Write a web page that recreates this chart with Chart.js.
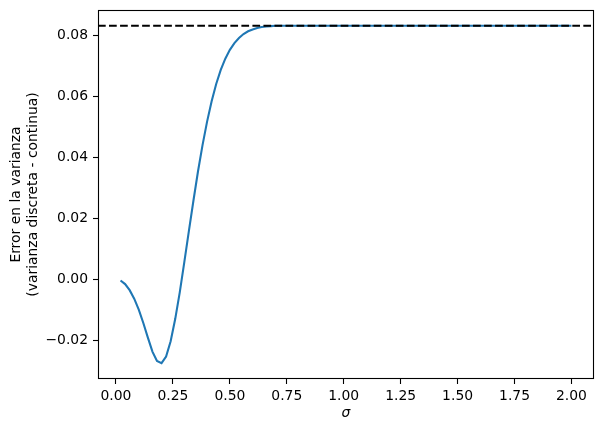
<!DOCTYPE html>
<html>
<head>
<meta charset="utf-8">
<script src="https://cdn.jsdelivr.net/npm/chart.js@4"></script>
<style>
	html, body { margin: 0; padding: 0; background: #fff; }
	#wrap { width: 604px; height: 432px; }
</style>
</head>
<body>
<div id="wrap"><canvas id="myChart" width="604" height="432"></canvas></div>
<script>
	// sigma values 0.02 .. 2.00 (step 0.02), errors
	var sigmaStart = 0.02;
	var sigmaStep = 0.02;
	var errorValues = [
		-0.0004, -0.0016, -0.0036, -0.0064, -0.0100, -0.0144, -0.0192, -0.0238, -0.0269, -0.0276,
		-0.0254, -0.0204, -0.0131, -0.0043, 0.0056, 0.0158, 0.0258, 0.0354, 0.0441, 0.0518,
		0.0585, 0.0642, 0.0688, 0.0725, 0.0754, 0.0776, 0.0793, 0.0806, 0.0815, 0.0821,
		0.0826, 0.0829, 0.0831, 0.0832, 0.0833, 0.0833, 0.0833, 0.0833, 0.0833, 0.0833,
		0.0833, 0.0833, 0.0833, 0.0833, 0.0833, 0.0833, 0.0833, 0.0833, 0.0833, 0.0833,
		0.0833, 0.0833, 0.0833, 0.0833, 0.0833, 0.0833, 0.0833, 0.0833, 0.0833, 0.0833,
		0.0833, 0.0833, 0.0833, 0.0833, 0.0833, 0.0833, 0.0833, 0.0833, 0.0833, 0.0833,
		0.0833, 0.0833, 0.0833, 0.0833, 0.0833, 0.0833, 0.0833, 0.0833, 0.0833, 0.0833,
		0.0833, 0.0833, 0.0833, 0.0833, 0.0833, 0.0833, 0.0833, 0.0833, 0.0833, 0.0833,
		0.0833, 0.0833, 0.0833, 0.0833, 0.0833, 0.0833, 0.0833, 0.0833, 0.0833, 0.0833
	];
	var refValue = 1 / 12;
	var xTicks = [0, 0.25, 0.5, 0.75, 1.0, 1.25, 1.5, 1.75, 2.0];
	var yTicks = [-0.02, 0, 0.02, 0.04, 0.06, 0.08];
	var xLimits = [-0.079, 2.099];
	var yLimits = [-0.0328, 0.0885];

	var points = errorValues.map(function(v, i) {
		return { x: sigmaStart + i * sigmaStep, y: v };
	});

	var FONT = "'DejaVu Sans', sans-serif";
	var FSIZE = 13.9;

	var frameAndRef = {
		id: 'frameAndRef',
		afterDatasetsDraw: function(chart) {
			var ctx = chart.ctx;
			var a = chart.chartArea;
			var yPix = chart.scales.y.getPixelForValue(refValue);
			ctx.save();
			ctx.beginPath();
			ctx.rect(a.left, a.top, a.right - a.left, a.bottom - a.top);
			ctx.clip();
			ctx.strokeStyle = '#000';
			ctx.lineWidth = 2.08;
			ctx.setLineDash([7.7, 3.33]);
			ctx.beginPath();
			ctx.moveTo(a.left, yPix);
			ctx.lineTo(a.right, yPix);
			ctx.stroke();
			ctx.restore();
		},
		afterDraw: function(chart) {
			var ctx = chart.ctx;
			var a = chart.chartArea;
			ctx.save();
			ctx.strokeStyle = '#000';
			ctx.lineWidth = 1.1;
			ctx.strokeRect(Math.round(a.left) + 0.5, Math.round(a.top) + 0.5,
				Math.round(a.right - a.left) - 1, Math.round(a.bottom - a.top) - 1);
			ctx.restore();
		}
	};

	function fmt(v) {
		return v.toFixed(2).replace('-', '\u2212');
	}

	var myChart = new Chart(document.getElementById('myChart'), {
		type: 'line',
		data: {
			datasets: [{
				data: points,
				borderColor: '#1f77b4',
				borderWidth: 2.08,
				pointRadius: 0,
				fill: false,
				tension: 0
			}]
		},
		options: {
			responsive: false,
			animation: false,
			layout: { padding: { left: 0, right: 10, top: 10, bottom: 0 } },
			plugins: {
				legend: { display: false },
				tooltip: { enabled: false }
			},
			scales: {
				x: {
					type: 'linear',
					min: xLimits[0],
					max: xLimits[1],
					afterBuildTicks: function(scale) {
						scale.ticks = xTicks.map(function(v) { return { value: v }; });
					},
					afterFit: function(scale) {
						scale.height = 53;
						scale.paddingLeft = 0;
						scale.paddingRight = 0;
					},
					grid: { drawOnChartArea: false, drawTicks: true, tickLength: 5, color: '#000', tickWidth: 1.1 },
					border: { display: false },
					ticks: {
						color: '#000',
						padding: 4,
						maxRotation: 0,
						autoSkip: false,
						font: { family: FONT, size: FSIZE },
						callback: function(v) { return fmt(v); }
					},
					title: {
						display: true,
						text: '\u03c3',
						color: '#000',
						padding: { top: 0, bottom: 10 },
						font: { family: FONT, size: FSIZE, style: 'italic' }
					}
				},
				y: {
					type: 'linear',
					min: yLimits[0],
					max: yLimits[1],
					afterBuildTicks: function(scale) {
						scale.ticks = yTicks.map(function(v) { return { value: v }; });
					},
					afterFit: function(scale) {
						scale.width = 98;
						scale.paddingTop = 0;
						scale.paddingBottom = 0;
					},
					grid: { drawOnChartArea: false, drawTicks: true, tickLength: 5, color: '#000', tickWidth: 1.1 },
					border: { display: false },
					ticks: {
						color: '#000',
						padding: 5,
						autoSkip: false,
						font: { family: FONT, size: FSIZE },
						callback: function(v) { return fmt(v); }
					},
					title: {
						display: true,
						text: ['Error en la varianza', '(varianza discreta - continua)'],
						color: '#000',
						padding: { top: 8.5, bottom: 0 },
						font: { family: FONT, size: FSIZE, lineHeight: 1.19 }
					}
				}
			}
		},
		plugins: [frameAndRef]
	});
</script>
</body>
</html>
